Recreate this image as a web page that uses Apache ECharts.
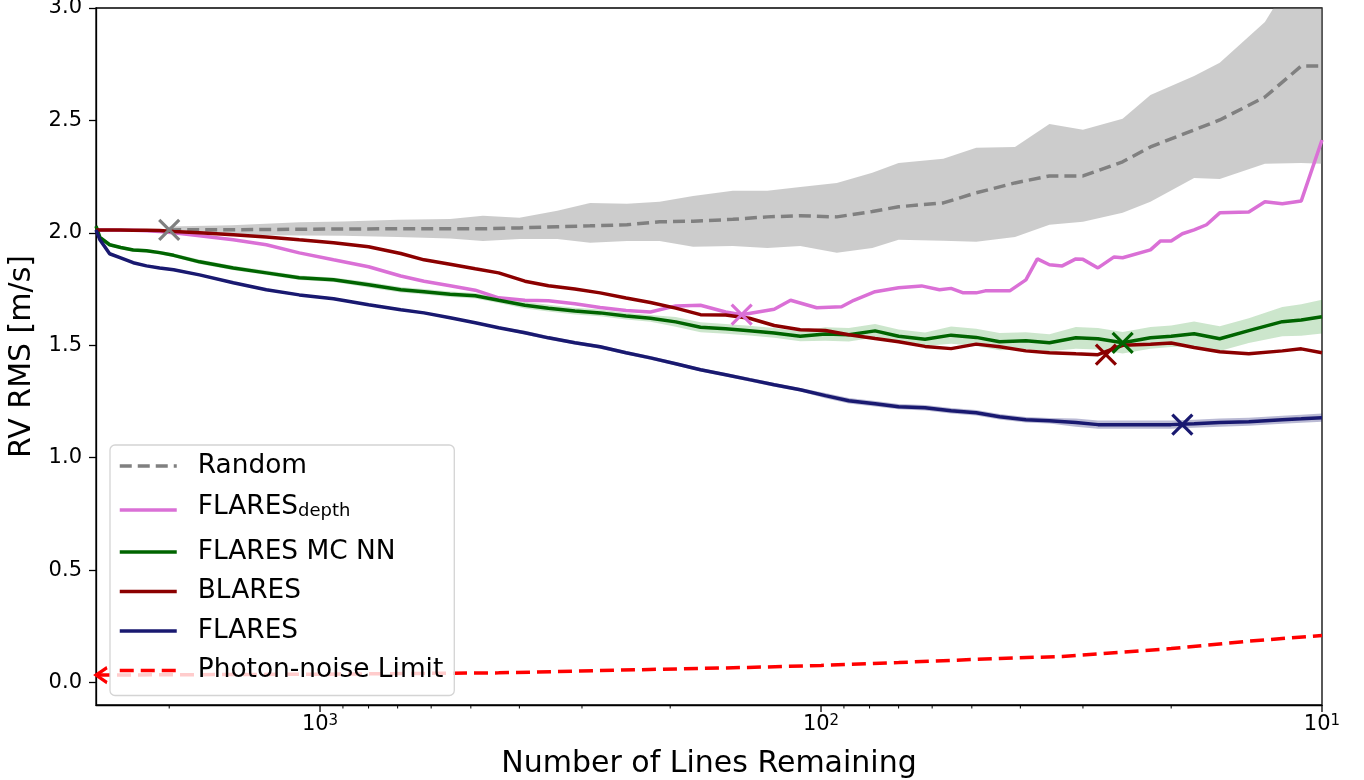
<!DOCTYPE html>
<html><head><meta charset="utf-8">
<script src="https://cdn.jsdelivr.net/npm/echarts@6/dist/echarts.min.js"></script>
<style>html,body{margin:0;padding:0;background:#fff}#c{width:1364px;height:780px}</style>
</head><body><div id="c"></div>
<script>
// ---------- data ----------
const gridN = [2800, 2750, 2630, 2500, 2360, 2220, 2090, 1960, 1740, 1490, 1280, 1100, 940, 800, 690, 620, 550, 490, 440, 390, 350, 310, 276, 245, 219, 195, 174, 155, 139, 124, 110, 98, 88, 78, 70, 62, 55, 49, 44, 39, 35, 31, 28, 25, 22, 20, 18, 16, 14, 12, 11, 10];

const flaresV = [2.013, 1.969, 1.907, 1.889, 1.867, 1.853, 1.844, 1.836, 1.813, 1.778, 1.747, 1.724, 1.707, 1.68, 1.658, 1.644, 1.622, 1.6, 1.578, 1.556, 1.533, 1.511, 1.493, 1.467, 1.444, 1.418, 1.391, 1.369, 1.347, 1.324, 1.302, 1.276, 1.253, 1.24, 1.227, 1.222, 1.209, 1.2, 1.182, 1.169, 1.164, 1.156, 1.147, 1.147, 1.147, 1.147, 1.151, 1.156, 1.16, 1.169, 1.173, 1.178];
const flaresSpread = [0.005, 0.005, 0.005, 0.005, 0.005, 0.005, 0.005, 0.005, 0.005, 0.005, 0.005, 0.005, 0.005, 0.005, 0.005, 0.005, 0.005, 0.005, 0.005, 0.008, 0.008, 0.008, 0.008, 0.008, 0.008, 0.008, 0.008, 0.008, 0.008, 0.008, 0.008, 0.012, 0.012, 0.012, 0.012, 0.012, 0.012, 0.012, 0.012, 0.012, 0.012, 0.018, 0.018, 0.018, 0.018, 0.018, 0.018, 0.018, 0.018, 0.018, 0.018, 0.018];

const mcnnV = [2.03, 1.98, 1.947, 1.935, 1.924, 1.92, 1.912, 1.9, 1.871, 1.844, 1.822, 1.8, 1.791, 1.769, 1.747, 1.738, 1.727, 1.72, 1.70, 1.678, 1.665, 1.652, 1.644, 1.63, 1.62, 1.604, 1.58, 1.573, 1.565, 1.555, 1.54, 1.55, 1.547, 1.564, 1.54, 1.527, 1.545, 1.535, 1.516, 1.52, 1.511, 1.533, 1.529, 1.511, 1.533, 1.54, 1.551, 1.529, 1.565, 1.605, 1.612, 1.627];
const mcnnSpread = [0.008, 0.008, 0.008, 0.008, 0.008, 0.008, 0.008, 0.008, 0.01, 0.01, 0.01, 0.01, 0.01, 0.012, 0.012, 0.012, 0.012, 0.012, 0.012, 0.015, 0.015, 0.015, 0.015, 0.015, 0.015, 0.022, 0.022, 0.022, 0.022, 0.022, 0.022, 0.03, 0.03, 0.03, 0.03, 0.03, 0.038, 0.038, 0.038, 0.038, 0.038, 0.048, 0.048, 0.048, 0.048, 0.048, 0.055, 0.055, 0.055, 0.065, 0.07, 0.075];

const blaresV = [2.013, 2.013, 2.013, 2.013, 2.012, 2.011, 2.01, 2.006, 2.0, 1.991, 1.982, 1.969, 1.956, 1.938, 1.908, 1.88, 1.86, 1.84, 1.822, 1.785, 1.765, 1.75, 1.733, 1.71, 1.69, 1.665, 1.636, 1.635, 1.62, 1.588, 1.569, 1.566, 1.547, 1.53, 1.516, 1.495, 1.485, 1.505, 1.493, 1.475, 1.467, 1.462, 1.458, 1.5, 1.505, 1.51, 1.49, 1.471, 1.462, 1.475, 1.484, 1.467];

const depthN = [2800, 2750, 2630, 2500, 2360, 2220, 2090, 1960, 1740, 1490, 1280, 1100, 940, 800, 690, 620, 550, 490, 440, 390, 350, 310, 276, 245, 219, 195, 174, 155, 144, 124, 115, 102, 91, 86, 78, 70, 63, 58, 55, 52, 49, 47, 42, 39, 37, 35, 33, 31, 30, 28, 26, 25, 22, 21, 20, 19, 18, 17, 16, 14, 13, 12, 11, 10];
const depthV = [2.013, 2.013, 2.013, 2.012, 2.011, 2.009, 2.006, 2.0, 1.987, 1.969, 1.947, 1.911, 1.88, 1.849, 1.808, 1.785, 1.765, 1.745, 1.711, 1.7, 1.698, 1.685, 1.668, 1.655, 1.648, 1.675, 1.678, 1.648, 1.636, 1.66, 1.70, 1.667, 1.671, 1.70, 1.738, 1.756, 1.764, 1.747, 1.753, 1.733, 1.733, 1.742, 1.742, 1.791, 1.884, 1.858, 1.853, 1.884, 1.882, 1.844, 1.893, 1.889, 1.924, 1.964, 1.964, 1.996, 2.013, 2.036, 2.089, 2.093, 2.138, 2.129, 2.142, 2.413];

const randN = [2000, 1500, 1100, 900, 700, 550, 473, 400, 336, 289, 244, 210, 180, 150, 128, 110, 93, 79, 70, 57, 49, 41, 35, 30, 25, 22, 18, 16, 13, 11, 10];
const randV = [2.013, 2.014, 2.016, 2.017, 2.018, 2.018, 2.018, 2.022, 2.027, 2.031, 2.036, 2.049, 2.052, 2.06, 2.071, 2.076, 2.071, 2.095, 2.116, 2.133, 2.178, 2.222, 2.253, 2.253, 2.316, 2.382, 2.458, 2.502, 2.604, 2.742, 2.742];
const randHi = [2.028, 2.034, 2.047, 2.05, 2.058, 2.062, 2.076, 2.067, 2.098, 2.133, 2.129, 2.138, 2.164, 2.187, 2.187, 2.204, 2.222, 2.267, 2.311, 2.33, 2.378, 2.382, 2.484, 2.458, 2.507, 2.613, 2.698, 2.756, 2.938, 3.2, 3.2];
const randLo = [1.996, 1.992, 1.988, 1.987, 1.982, 1.975, 1.964, 1.973, 1.973, 1.956, 1.964, 1.964, 1.938, 1.942, 1.933, 1.942, 1.911, 1.933, 1.969, 1.965, 1.96, 1.982, 2.036, 2.049, 2.089, 2.138, 2.244, 2.24, 2.307, 2.311, 2.307];

const photN = [2800, 1000, 440, 220, 140, 100, 70, 44, 33, 20, 14, 10];
const photV = [0.033, 0.037, 0.043, 0.058, 0.067, 0.076, 0.089, 0.107, 0.116, 0.151, 0.184, 0.209];

// best (minimum) points marked with an X
const markN = [2000, 144, 25, 27, 19];
const markV = [2.013, 1.636, 1.511, 1.458, 1.147];

const yTicks = [0, 0.5, 1.0, 1.5, 2.0, 2.5, 3.0];
const xMajorTicks = [1000, 100, 10];
const xMinorTicks = [2000, 900, 800, 700, 600, 500, 400, 300, 200, 90, 80, 70, 60, 50, 40, 30, 20];
const legendNames = ['Random', 'FLARES_depth', 'FLARES MC NN', 'BLARES', 'FLARES', 'Photon-noise Limit'];

// ---------- chart ----------
const FONT = 'DejaVu Sans';
const LW = 3.5;
const C = {rand: '#808080', depth: '#da70d6', mcnn: '#006400', blares: '#8b0000', flares: '#191970', phot: '#ff0000'};
const markColors = [C.rand, C.depth, C.mcnn, C.blares, C.flares];
const pairs = (xs, ys) => xs.map((x, i) => [x, ys[i]]);

function band(xs, lo, hi, fill) {
  return {
    type: 'custom', silent: true, clip: true, z: 1,
    data: [[xs[0], lo[0]]],
    renderItem: (params, api) => {
      const pts = [];
      for (let i = 0; i < xs.length; i++) pts.push(api.coord([xs[i], hi[i]]));
      for (let i = xs.length - 1; i >= 0; i--) pts.push(api.coord([xs[i], lo[i]]));
      return {type: 'polygon', shape: {points: pts}, style: {fill: fill}};
    }
  };
}
function ticks(vals, len, w) {
  return {
    type: 'custom', silent: true, clip: false, z: 6,
    data: vals.map(v => [v, -0.1]),
    renderItem: (params, api) => {
      const c = api.coord([api.value(0), -0.1]);
      return {type: 'line', shape: {x1: c[0], y1: c[1], x2: c[0], y2: c[1] + len}, style: {stroke: '#000', lineWidth: w}};
    }
  };
}
function line(name, xs, ys, color, dash, z) {
  return {
    name: name, type: 'line', data: pairs(xs, ys), symbol: 'none', z: z,
    lineStyle: {color: color, width: LW, type: dash || 'solid'},
    itemStyle: {color: color}, emphasis: {disabled: true}
  };
}

const legendData = legendNames.map(n => n === 'FLARES_depth'
  ? {name: n, textStyle: {padding: [0, 0, 5, 16]}}
  : {name: n});

const chart = echarts.init(document.getElementById('c'), null, {renderer: 'canvas'});
const option = {
  animation: false,
  textStyle: {fontFamily: FONT},
  grid: {left: 96, right: 42, top: 8, bottom: 75, show: true, borderColor: '#000', borderWidth: 1.3, backgroundColor: 'transparent', outerBoundsMode: 'none'},
  xAxis: {
    type: 'log', logBase: 10, min: 10, max: 2800, inverse: true,
    splitLine: {show: false}, minorSplitLine: {show: false},
    axisLine: {show: true, onZero: false, lineStyle: {color: '#000', width: 1.3}},
    axisTick: {show: false},
    axisLabel: {
      margin: 9, color: '#000',
      formatter: v => {
        const l = Math.log10(v), e = Math.round(l);
        if (Math.abs(l - e) > 1e-6) return '';
        return '{b|10}{s|' + e + '}';
      },
      rich: {
        b: {fontFamily: FONT, fontSize: 21, lineHeight: 22, color: '#000'},
        s: {fontFamily: FONT, fontSize: 15, lineHeight: 10, verticalAlign: 'top', color: '#000'}
      }
    },
    name: 'Number of Lines Remaining', nameLocation: 'middle', nameGap: 44,
    nameTextStyle: {fontFamily: FONT, fontSize: 30, color: '#000'}
  },
  yAxis: {
    type: 'value', min: -0.1, max: 3.0,
    splitLine: {show: false},
    axisLine: {show: true, onZero: false, lineStyle: {color: '#000', width: 1.3}},
    axisTick: {show: true, length: 7, lineStyle: {color: '#000', width: 1.3}, customValues: yTicks},
    axisLabel: {customValues: yTicks, formatter: v => v.toFixed(1), fontFamily: FONT, fontSize: 21, color: '#000', margin: 14},
    name: 'RV RMS [m/s]', nameLocation: 'middle', nameGap: 56,
    nameTextStyle: {fontFamily: FONT, fontSize: 30, color: '#000'}
  },
  legend: {
    data: legendData, orient: 'vertical', left: 110, top: 445,
    padding: [8, 11, 12, 8], itemWidth: 57, itemHeight: 14, itemGap: 13.5,
    backgroundColor: 'rgba(255,255,255,0.8)', borderColor: '#d4d4d4', borderWidth: 1.3, borderRadius: 5,
    itemStyle: {opacity: 0},
    lineStyle: {width: LW},
    selectedMode: false,
    formatter: n => n === 'FLARES_depth' ? '{m|FLARES}{d|depth}' : n,
    textStyle: {
      fontFamily: FONT, fontSize: 26.4, lineHeight: 26, color: '#000', padding: [0, 0, 0, 16],
      rich: {
        m: {fontFamily: FONT, fontSize: 26.4, lineHeight: 26, verticalAlign: 'top', color: '#000'},
        d: {fontFamily: FONT, fontSize: 18, lineHeight: 20, padding: [10, 0, 0, 0], verticalAlign: 'bottom', color: '#000'}
      }
    }
  },
  series: [
    band(randN, randLo, randHi, 'rgba(128,128,128,0.4)'),
    band(gridN, mcnnV.map((v, i) => v - mcnnSpread[i]), mcnnV.map((v, i) => v + mcnnSpread[i]), 'rgba(0,128,0,0.2)'),
    band(gridN, flaresV.map((v, i) => v - flaresSpread[i]), flaresV.map((v, i) => v + flaresSpread[i]), 'rgba(25,25,112,0.3)'),
    line('Random', randN, randV, C.rand, [12, 6], 3),
    line('FLARES_depth', depthN, depthV, C.depth, null, 3),
    line('FLARES MC NN', gridN, mcnnV, C.mcnn, null, 3),
    line('BLARES', gridN, blaresV, C.blares, null, 3),
    line('FLARES', gridN, flaresV, C.flares, null, 3),
    line('Photon-noise Limit', photN, photV, C.phot, [14, 7], 3),
    {
      type: 'scatter', silent: true, z: 8, clip: false,
      symbol: 'path://M0,0L10,10M10,0L0,10', symbolSize: 20,
      data: markN.map((n, i) => ({value: [n, markV[i]], itemStyle: {color: 'rgba(0,0,0,0)', borderColor: markColors[i], borderWidth: 3.2, opacity: 1}}))
    },
    {
      type: 'scatter', silent: true, z: 8, clip: false,
      symbol: 'path://M10,0L0,7L10,14', symbolSize: [11, 15], symbolOffset: [5.5, 0],
      data: [{value: [photN[0], photV[0]], itemStyle: {color: 'rgba(0,0,0,0)', borderColor: C.phot, borderWidth: 3, opacity: 1}}]
    },
    ticks(xMajorTicks, 7, 1.3),
    ticks(xMinorTicks, 3.5, 1)
  ]
};
chart.setOption(option);
</script>
</body></html>
